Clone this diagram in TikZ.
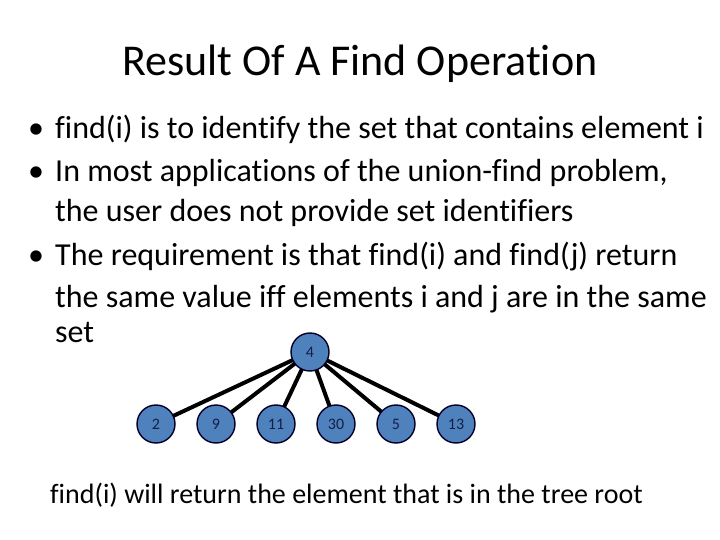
\documentclass[tikz,border=0pt]{standalone}
\usepackage{fontspec}
\setmainfont{Carlito}[Ligatures=NoCommon]
\begin{document}
\begin{tikzpicture}[x=1pt,y=-1pt,
 nd/.style={circle,draw=black!85!blue,line width=1.4pt,fill={rgb,255:red,79;green,129;blue,189},minimum size=38pt,inner sep=0pt,font=\fontsize{16}{16}\selectfont,text={rgb,255:red,20;green,30;blue,70}},
 ed/.style={line width=4pt},
 tx/.style={anchor=base west,inner sep=0pt,font=\fontsize{32}{32}\selectfont}]
\useasboundingbox (0,0) rectangle (720,540);
\node[font=\fontsize{44}{44}\selectfont] (t) at (360,64) {Result Of A Find Operation};
\node[tx] (b1) at (28,139) {•};
\node[tx] (l1) at (55,139) {find(i) is to identify the set that contains element i};
\node[tx] (b2) at (28,182) {•};
\node[tx] (l2) at (55,182) {In most applications of the union-find problem,};
\node[tx] (l3) at (55,222) {the user does not provide set identifiers};
\node[tx] (b3) at (28,265) {•};
\node[tx] (l4) at (55,265) {The requirement is that find(i) and find(j) return};
\node[tx] (l5) at (55,307) {the same value iff elements i and j are in the same};
\node[tx] (l6) at (55,342) {set};
\node[tx,font=\fontsize{28}{28}\selectfont] (bt) at (50,503) {find(i) will return the element that is in the tree root};
\foreach \n/\x in {2/156,9/216,11/276,30/336,5/396,13/456}{
  \draw[ed] (310,352) -- (\x,424);
}
\node[nd] (r) at (310,352) {4};
\foreach \n/\x in {2/156,9/216,11/276,30/336,5/396,13/456}{
  \node[nd] (c\n) at (\x,424) {\n};
}
\end{tikzpicture}
\end{document}
